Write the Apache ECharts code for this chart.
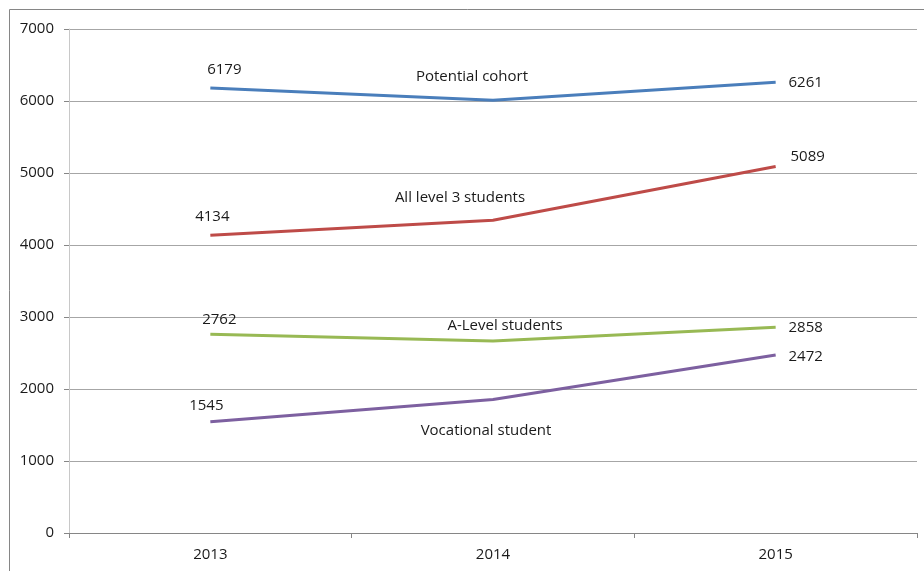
<!DOCTYPE html>
<html style="height: 100%">
<head>
    <meta charset="utf-8">
    <title>Level 3 cohort</title>
    <script type="text/javascript" src="https://cdn.jsdelivr.net/npm/echarts@6/dist/echarts.min.js"></script>
</head>
<body style="height: 100%; margin: 0; background: #fff;">
<div id="container" style="width: 924px; height: 571px;"></div>
<script type="text/javascript">
    // 数据
    var years = ['2013', '2014', '2015'];
    var seriesNames = ['Potential cohort', 'All level 3 students', 'A-Level students', 'Vocational student'];
    var potentialCohort = [6179, 6010, 6261];
    var allLevel3 = [4134, 4345, 5089];
    var aLevel = [2762, 2665, 2858];
    var vocational = [1545, 1855, 2472];
    var yTicks = [0, 1000, 2000, 3000, 4000, 5000, 6000, 7000];

    var colors = ['#4a7ebb', '#be4b48', '#98b954', '#7d60a0'];
    // label offsets per point: 2013 value, 2014 series name, 2015 value
    var offsets = [
        [[14, -18], [-21, -24], [30, 1]],
        [[2, -19], [-33, -22], [32, -10]],
        [[9, -14], [12, -15], [30, 1]],
        [[-4, -16], [-7, 31], [30, 2]]
    ];
    var allData = [potentialCohort, allLevel3, aLevel, vocational];

    var textFont = {fontFamily: 'Open Sans', fontSize: 15, color: '#1a1a1a'};

    var seriesList = [];
    for (var s = 0; s < allData.length; s++) {
        var items = [];
        for (var i = 0; i < allData[s].length; i++) {
            items.push({
                value: allData[s][i],
                label: {
                    show: true,
                    position: 'inside',
                    offset: offsets[s][i],
                    formatter: i == 1 ? seriesNames[s] : '{c}',
                    fontFamily: textFont.fontFamily,
                    fontSize: textFont.fontSize,
                    color: textFont.color
                }
            });
        }
        seriesList.push({
            name: seriesNames[s],
            type: 'line',
            data: items,
            symbol: 'circle',
            symbolSize: 0,
            showSymbol: true,
            lineStyle: {color: colors[s], width: 3},
            itemStyle: {color: colors[s]},
            emphasis: {disabled: true},
            animation: false
        });
    }

    var myChart = echarts.init(document.getElementById('container'));
    var option = {
        animation: false,
        grid: {left: 69, right: 7, top: 29, bottom: 38, containLabel: false},
        graphic: [{
            type: 'rect',
            shape: {x: 9.5, y: 9.5, width: 1000, height: 1000},
            style: {fill: 'none', stroke: '#868686', lineWidth: 1},
            silent: true
        }],
        xAxis: {
            type: 'category',
            data: years,
            boundaryGap: true,
            axisLine: {lineStyle: {color: '#868686'}},
            axisTick: {show: true, length: 5, lineStyle: {color: '#868686'}},
            axisLabel: {margin: 14, fontFamily: 'Open Sans', fontSize: 15, color: '#1a1a1a'}
        },
        yAxis: {
            type: 'value',
            min: yTicks[0],
            max: yTicks[yTicks.length - 1],
            interval: 1000,
            axisLine: {show: true, lineStyle: {color: '#c8c8c8'}},
            axisTick: {show: true, length: 5, lineStyle: {color: '#868686'}},
            axisLabel: {
                margin: 15,
                fontFamily: 'Open Sans',
                fontSize: 15,
                color: '#1a1a1a',
                formatter: function (v) { return String(v); }
            },
            splitLine: {lineStyle: {color: '#a6a6a6'}}
        },
        series: seriesList
    };
    myChart.setOption(option, true);
</script>
</body>
</html>
